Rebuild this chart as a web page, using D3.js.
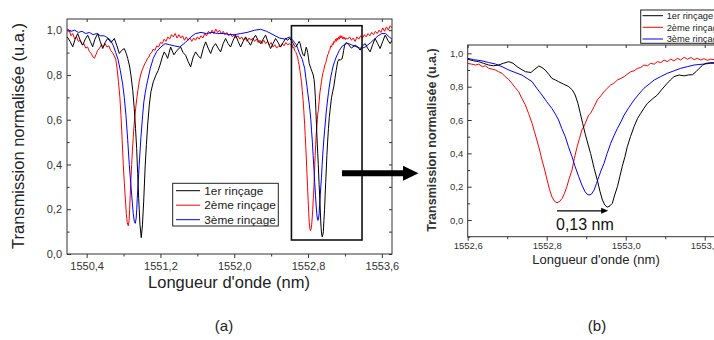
<!DOCTYPE html>
<html lang="fr">
<head>
<meta charset="utf-8">
<style>
  body { margin: 0; background: #fff; }
  svg { font-family: "Liberation Sans", Arial, sans-serif; }
  .frame { fill: none; stroke: #333; stroke-width: 1; }
  .tick line { stroke: #333; }
  .tick text { fill: #333; }
  .curve { fill: none; stroke-width: 1; stroke-linejoin: round; }
</style>
</head>
<body>
<svg width="714" height="340"></svg>
<script src="https://cdn.jsdelivr.net/npm/d3@7"></script>
<script>
// ---- data: [wavelength nm, normalised transmission] ----
var rinse1 = [
  [1550.19,0.970],[1550.22,0.95],[1550.249,0.926],[1550.275,0.96],[1550.303,0.985],[1550.33,0.955],
  [1550.357,0.933],[1550.385,0.96],[1550.411,0.978],[1550.44,0.95],[1550.465,0.926],[1550.49,0.96],
  [1550.52,0.985],[1550.547,0.95],[1550.574,0.918],[1550.60,0.945],[1550.628,0.963],[1550.665,0.945],
  [1550.70,0.963],[1550.728,0.93],[1550.754,0.896],[1550.78,0.91],[1550.808,0.918],[1550.83,0.895],
  [1550.845,0.874],[1550.865,0.84],[1550.88,0.799],[1550.90,0.73],[1550.916,0.650],[1550.93,0.56],
  [1550.942,0.472],[1550.953,0.36],[1550.964,0.249],[1550.978,0.13],[1550.992,0.073],[1551.005,0.13],
  [1551.018,0.233],[1551.035,0.397],[1551.048,0.49],[1551.061,0.576],[1551.08,0.67],[1551.097,0.725],
  [1551.122,0.769],[1551.151,0.799],[1551.175,0.82],[1551.195,0.844],[1551.22,0.88],[1551.241,0.903],
  [1551.26,0.89],[1551.278,0.874],[1551.31,0.925],[1551.346,0.89],[1551.38,0.91],[1551.419,0.925],
  [1551.445,0.90],[1551.473,0.888],[1551.50,0.86],[1551.527,0.836],[1551.555,0.88],[1551.581,0.903],
  [1551.61,0.885],[1551.636,0.874],[1551.665,0.92],[1551.69,0.948],[1551.717,0.92],[1551.744,0.896],
  [1551.77,0.925],[1551.798,0.94],[1551.825,0.92],[1551.852,0.903],[1551.88,0.94],[1551.906,0.963],
  [1551.933,0.94],[1551.96,0.925],[1551.988,0.955],[1552.015,0.978],[1552.042,0.95],[1552.069,0.925],
  [1552.096,0.95],[1552.123,0.97],[1552.15,0.95],[1552.177,0.933],[1552.204,0.96],[1552.231,0.978],
  [1552.258,0.955],[1552.286,0.94],[1552.313,0.96],[1552.34,0.978],[1552.367,0.945],[1552.394,0.918],
  [1552.42,0.94],[1552.448,0.963],[1552.475,0.945],[1552.502,0.925],[1552.53,0.945],[1552.556,0.963],
  [1552.58,0.955],[1552.60,0.965],[1552.615,0.955],[1552.628,0.95],[1552.64,0.94],[1552.653,0.93],
  [1552.665,0.925],[1552.678,0.93],[1552.69,0.94],[1552.704,0.95],[1552.715,0.94],[1552.725,0.92],
  [1552.735,0.905],[1552.746,0.89],[1552.76,0.885],[1552.77,0.905],[1552.78,0.924],[1552.788,0.915],
  [1552.796,0.90],[1552.805,0.875],[1552.813,0.85],[1552.822,0.84],[1552.83,0.83],[1552.843,0.815],
  [1552.856,0.80],[1552.865,0.78],[1552.872,0.75],[1552.879,0.70],[1552.885,0.64],[1552.891,0.58],
  [1552.897,0.52],[1552.905,0.45],[1552.911,0.40],[1552.92,0.31],[1552.928,0.24],[1552.935,0.17],
  [1552.941,0.12],[1552.947,0.09],[1552.953,0.077],[1552.96,0.085],[1552.966,0.10],[1552.972,0.15],
  [1552.979,0.20],[1552.985,0.26],[1552.991,0.32],[1552.998,0.38],[1553.004,0.44],[1553.012,0.50],
  [1553.021,0.56],[1553.03,0.61],[1553.038,0.64],[1553.046,0.67],[1553.055,0.70],[1553.067,0.725],
  [1553.08,0.75],[1553.092,0.785],[1553.105,0.82],[1553.113,0.84],[1553.122,0.86],[1553.135,0.87],
  [1553.148,0.865],[1553.158,0.87],[1553.169,0.872],[1553.178,0.89],[1553.186,0.91],[1553.195,0.93],
  [1553.203,0.94],[1553.22,0.945],[1553.24,0.935],[1553.27,0.92],[1553.311,0.933],[1553.34,0.925],
  [1553.365,0.911],[1553.39,0.93],[1553.419,0.94],[1553.445,0.92],[1553.473,0.903],[1553.50,0.935],
  [1553.527,0.963],[1553.555,0.94],[1553.581,0.918],[1553.61,0.95],[1553.636,0.978],[1553.665,0.955],
  [1553.69,0.94],[1553.71,0.955]
];

var rinse2 = [
  [1550.19,0.99],[1550.21,1.0],[1550.23,0.975],[1550.25,0.985],[1550.27,0.96],[1550.29,0.97],
  [1550.31,0.95],[1550.33,0.955],[1550.35,0.935],[1550.37,0.94],[1550.39,0.92],[1550.41,0.925],
  [1550.43,0.905],[1550.45,0.895],[1550.47,0.88],[1550.485,0.875],[1550.50,0.89],[1550.52,0.91],
  [1550.54,0.92],[1550.56,0.935],[1550.58,0.925],[1550.60,0.94],[1550.62,0.925],[1550.64,0.93],
  [1550.66,0.91],[1550.68,0.9],[1550.70,0.885],[1550.715,0.87],[1550.73,0.83],[1550.745,0.77],
  [1550.76,0.70],[1550.772,0.62],[1550.785,0.51],[1550.797,0.40],[1550.808,0.32],[1550.819,0.25],
  [1550.83,0.18],[1550.84,0.14],[1550.851,0.126],[1550.86,0.15],[1550.866,0.20],[1550.872,0.26],
  [1550.88,0.33],[1550.888,0.40],[1550.896,0.46],[1550.905,0.52],[1550.915,0.58],[1550.924,0.62],
  [1550.935,0.665],[1550.945,0.70],[1550.957,0.735],[1550.97,0.77],[1550.985,0.80],[1551.0,0.82],
  [1551.015,0.835],[1551.03,0.85],[1551.045,0.86],[1551.06,0.875],[1551.075,0.88],[1551.09,0.895],
  [1551.105,0.90],[1551.12,0.915],[1551.14,0.91],[1551.16,0.93],[1551.18,0.925],[1551.20,0.945],
  [1551.22,0.94],[1551.24,0.96],[1551.26,0.95],[1551.28,0.97],[1551.30,0.96],[1551.32,0.98],
  [1551.34,0.97],[1551.36,0.985],[1551.38,0.965],[1551.40,0.98],[1551.42,0.965],[1551.44,0.975],
  [1551.46,0.955],[1551.48,0.97],[1551.50,0.955],[1551.52,0.965],[1551.54,0.95],[1551.56,0.965],
  [1551.58,0.955],[1551.60,0.97],[1551.62,0.96],[1551.64,0.975],[1551.66,0.965],[1551.68,0.985],
  [1551.70,0.975],[1551.72,0.995],[1551.74,0.985],[1551.76,1.0],[1551.78,0.985],[1551.80,1.005],
  [1551.82,0.99],[1551.84,1.0],[1551.86,0.985],[1551.88,0.995],[1551.90,0.98],[1551.92,0.99],
  [1551.94,0.975],[1551.96,0.985],[1551.98,0.97],[1552.00,0.98],[1552.02,0.965],[1552.04,0.975],
  [1552.06,0.96],[1552.08,0.97],[1552.10,0.955],[1552.12,0.965],[1552.14,0.95],[1552.16,0.965],
  [1552.18,0.955],[1552.20,0.965],[1552.22,0.95],[1552.24,0.96],[1552.26,0.945],[1552.28,0.955],
  [1552.30,0.94],[1552.32,0.955],[1552.34,0.94],[1552.36,0.95],[1552.38,0.935],[1552.40,0.945],
  [1552.42,0.925],[1552.44,0.935],[1552.46,0.92],[1552.48,0.93],[1552.50,0.925],[1552.52,0.94],
  [1552.54,0.93],[1552.56,0.945],[1552.58,0.935],[1552.60,0.94],[1552.61,0.935],[1552.62,0.93],
  [1552.628,0.935],[1552.637,0.92],[1552.645,0.925],[1552.653,0.91],[1552.662,0.905],[1552.67,0.9],
  [1552.678,0.89],[1552.687,0.88],[1552.695,0.86],[1552.703,0.845],[1552.712,0.82],[1552.72,0.795],
  [1552.729,0.77],[1552.737,0.73],[1552.746,0.69],[1552.754,0.64],[1552.763,0.58],[1552.769,0.53],
  [1552.775,0.48],[1552.782,0.42],[1552.788,0.36],[1552.795,0.30],[1552.801,0.24],[1552.807,0.185],
  [1552.813,0.14],[1552.82,0.112],[1552.826,0.104],[1552.833,0.112],[1552.839,0.13],[1552.845,0.16],
  [1552.851,0.20],[1552.857,0.25],[1552.864,0.30],[1552.87,0.37],[1552.877,0.44],[1552.883,0.49],
  [1552.889,0.54],[1552.895,0.565],[1552.901,0.60],[1552.906,0.63],[1552.911,0.64],[1552.92,0.68],
  [1552.928,0.72],[1552.937,0.745],[1552.945,0.77],[1552.953,0.79],[1552.962,0.81],[1552.97,0.82],
  [1552.979,0.84],[1552.988,0.85],[1552.996,0.86],[1553.004,0.875],[1553.013,0.89],[1553.021,0.895],
  [1553.03,0.91],[1553.038,0.915],[1553.046,0.93],[1553.055,0.925],[1553.063,0.94],[1553.072,0.935],
  [1553.08,0.95],[1553.089,0.945],[1553.097,0.96],[1553.105,0.95],[1553.114,0.965],[1553.122,0.955],
  [1553.131,0.97],[1553.139,0.96],[1553.148,0.976],[1553.156,0.965],[1553.165,0.975],[1553.173,0.962],
  [1553.181,0.97],[1553.19,0.96],[1553.198,0.968],[1553.207,0.958],[1553.215,0.965],[1553.23,0.96],
  [1553.25,0.97],[1553.27,0.955],[1553.29,0.965],[1553.31,0.95],[1553.33,0.97],[1553.35,0.96],
  [1553.37,0.975],[1553.39,0.965],[1553.41,0.98],[1553.43,0.97],[1553.45,0.985],[1553.47,0.975],
  [1553.49,0.99],[1553.51,0.98],[1553.53,0.995],[1553.55,0.985],[1553.57,1.0],[1553.59,0.99],
  [1553.61,1.01],[1553.63,0.995],[1553.65,1.015],[1553.67,1.0],[1553.69,1.02],[1553.71,1.01]
];

var rinse3 = [
  [1550.19,1.005],[1550.23,0.995],[1550.27,1.0],[1550.31,0.99],[1550.35,0.995],[1550.39,0.985],
  [1550.43,0.99],[1550.47,0.98],[1550.51,0.985],[1550.55,0.975],[1550.59,0.975],[1550.63,0.965],
  [1550.66,0.955],[1550.69,0.93],[1550.715,0.90],[1550.74,0.87],[1550.765,0.82],[1550.79,0.76],
  [1550.808,0.70],[1550.826,0.62],[1550.845,0.51],[1550.862,0.40],[1550.877,0.32],[1550.891,0.25],
  [1550.905,0.18],[1550.917,0.145],[1550.927,0.137],[1550.937,0.16],[1550.943,0.20],[1550.949,0.25],
  [1550.96,0.33],[1550.97,0.40],[1550.988,0.52],[1551.007,0.62],[1551.02,0.68],[1551.035,0.72],
  [1551.048,0.75],[1551.061,0.775],[1551.09,0.83],[1551.122,0.874],[1551.16,0.905],[1551.205,0.925],
  [1551.25,0.94],[1551.30,0.935],[1551.35,0.93],[1551.41,0.925],[1551.47,0.945],[1551.53,0.97],
  [1551.58,0.985],[1551.64,0.99],[1551.70,0.985],[1551.76,0.99],[1551.82,0.985],[1551.89,0.985],
  [1551.95,0.98],[1552.0,0.98],[1552.07,0.985],[1552.14,0.99],[1552.22,1.0],[1552.285,1.004],
  [1552.35,0.995],[1552.43,0.978],[1552.49,0.965],[1552.55,0.96],[1552.6,0.97],[1552.615,0.962],
  [1552.636,0.955],[1552.653,0.945],[1552.67,0.936],[1552.687,0.92],[1552.704,0.90],[1552.72,0.885],
  [1552.737,0.87],[1552.75,0.85],[1552.763,0.83],[1552.775,0.79],[1552.788,0.75],[1552.8,0.71],
  [1552.813,0.67],[1552.822,0.635],[1552.83,0.60],[1552.838,0.55],[1552.847,0.50],[1552.855,0.44],
  [1552.864,0.38],[1552.872,0.32],[1552.881,0.26],[1552.889,0.21],[1552.897,0.17],[1552.902,0.155],
  [1552.907,0.15],[1552.913,0.155],[1552.92,0.18],[1552.926,0.22],[1552.932,0.26],[1552.938,0.30],
  [1552.945,0.34],[1552.953,0.40],[1552.962,0.46],[1552.97,0.505],[1552.979,0.55],[1552.988,0.59],
  [1552.996,0.63],[1553.008,0.675],[1553.021,0.72],[1553.033,0.755],[1553.046,0.79],[1553.059,0.815],
  [1553.072,0.84],[1553.088,0.86],[1553.105,0.88],[1553.122,0.895],[1553.139,0.91],[1553.156,0.92],
  [1553.173,0.93],[1553.195,0.935],[1553.215,0.94],[1553.24,0.94],[1553.27,0.935],[1553.30,0.93],
  [1553.33,0.925],[1553.36,0.92],[1553.39,0.92],[1553.42,0.925],[1553.45,0.935],[1553.48,0.945],
  [1553.52,0.96],[1553.56,0.975],[1553.60,0.985],[1553.64,0.985],[1553.68,0.97],[1553.71,0.96]
];

var seriesNames = ["1er rinçage", "2ème rinçage", "3ème rinçage"];
var seriesColors = ["#000000", "#ff0000", "#0000ff"];
var seriesData = [rinse1, rinse2, rinse3];

var xTicksA = [1550.4, 1551.2, 1552.0, 1552.8, 1553.6];
var xMinorA = [1550.8, 1551.6, 1552.4, 1553.2];
var yTicksA = [0, 0.2, 0.4, 0.6, 0.8, 1.0];
var yMinorA = [0.1, 0.3, 0.5, 0.7, 0.9];

var xTicksB = [1552.6, 1552.8, 1553.0, 1553.2];
var xMinorB = [1552.7, 1552.9, 1553.1];
var yTicksB = [0, 0.2, 0.4, 0.6, 0.8, 1.0];
var yMinorB = [-0.1, 0.1, 0.3, 0.5, 0.7, 0.9];

var zoomBox = [1552.62, 1553.385];   // rectangle drawn around the 2nd resonance
var shiftLabel = "0,13 nm";

var fr = d3.formatLocale({decimal: ",", thousands: "", grouping: [3], currency: ["", ""]});
var f1 = fr.format(".1f");

var svg = d3.select("svg");

function panel(o) {
    var g = svg.append("g");
    var x = d3.scaleLinear().domain(o.xd).range([o.l, o.r]);
    var y = d3.scaleLinear().domain(o.yd).range([o.b, o.t]);

    // bottom ticks, outward
    g.append("g").attr("transform", "translate(0," + o.b + ")")
        .call(d3.axisBottom(x).tickValues(o.xt).tickFormat(f1).tickSize(4).tickPadding(o.xpad))
        .call(function (a) { a.select(".domain").remove(); a.selectAll("text").style("font-size", o.fs + "px"); });
    g.append("g").attr("transform", "translate(0," + o.b + ")")
        .call(d3.axisBottom(x).tickValues(o.xm).tickFormat("").tickSize(2.5))
        .select(".domain").remove();
    // top ticks, inward
    g.append("g").attr("transform", "translate(0," + o.t + ")")
        .call(d3.axisTop(x).tickValues(o.xt.concat(o.xm)).tickFormat("").tickSize(-3))
        .select(".domain").remove();
    // left ticks, inward
    g.append("g").attr("transform", "translate(" + o.l + ",0)")
        .call(d3.axisLeft(y).tickValues(o.yt).tickFormat(f1).tickSize(-4).tickPadding(o.ypad))
        .call(function (a) { a.select(".domain").remove(); a.selectAll("text").style("font-size", o.fs + "px"); });
    g.append("g").attr("transform", "translate(" + o.l + ",0)")
        .call(d3.axisLeft(y).tickValues(o.ym).tickFormat("").tickSize(-2.5))
        .select(".domain").remove();
    if (o.rightTicks) {
        g.append("g").attr("transform", "translate(" + o.r + ",0)")
            .call(d3.axisRight(y).tickValues(o.yt.concat(o.ym)).tickFormat("").tickSize(-3))
            .select(".domain").remove();
    }

    g.append("rect").attr("class", "frame")
        .attr("x", o.l).attr("y", o.t).attr("width", o.r - o.l).attr("height", o.b - o.t);

    g.append("clipPath").attr("id", o.id)
        .append("rect").attr("x", o.l).attr("y", o.t).attr("width", o.r - o.l).attr("height", o.b - o.t);

    var line = d3.line().x(function (d) { return x(d[0]); }).y(function (d) { return y(d[1]); });
    var order = [1, 2, 0];
    order.forEach(function (i) {
        g.append("path").attr("class", "curve")
            .attr("clip-path", "url(#" + o.id + ")")
            .attr("stroke", seriesColors[i])
            .attr("stroke-width", i == 1 ? o.redW : 1)
            .attr("d", line(seriesData[i]));
    });
    return {x: x, y: y, g: g};
}

function legend(g, lx, ly, w, h, rows, x0, x1, tx, fs) {
    g.append("rect").attr("x", lx).attr("y", ly).attr("width", w).attr("height", h)
        .attr("fill", "#fff").attr("stroke", "#222").attr("stroke-width", 1);
    seriesNames.forEach(function (n, i) {
        g.append("line").attr("x1", x0).attr("x2", x1).attr("y1", rows[i]).attr("y2", rows[i])
            .attr("stroke", seriesColors[i]).attr("stroke-width", 1);
        g.append("text").attr("x", tx).attr("y", rows[i]).attr("dy", "0.35em")
            .style("font-size", fs + "px").attr("fill", "#222").text(n);
    });
}

// ---- panel (a) ----
var A = panel({id: "clipA", xd: [1550.187, 1553.71], yd: [0, 1.05], l: 67, r: 392, t: 19, b: 254,
    xt: xTicksA, xm: xMinorA, yt: yTicksA, ym: yMinorA, fs: 11, xpad: 4, ypad: 5, rightTicks: true, redW: 1.3});

A.g.append("rect").attr("x", A.x(zoomBox[0])).attr("y", 25.7)
    .attr("width", A.x(zoomBox[1]) - A.x(zoomBox[0])).attr("height", 214.3)
    .attr("fill", "none").attr("stroke", "#111").attr("stroke-width", 1.6);

legend(A.g, 172.7, 183.3, 105.6, 42.7, [190.7, 205.2, 219.7], 176, 200, 204.3, 11.8);

svg.append("text").attr("x", 229).attr("y", 288).attr("text-anchor", "middle")
    .style("font-size", "16.5px").attr("fill", "#222").text("Longueur d'onde (nm)");
svg.append("text").attr("transform", "translate(24,136) rotate(-90)").attr("text-anchor", "middle")
    .style("font-size", "16.5px").attr("fill", "#222").text("Transmission normalisée (u.a.)");

// ---- big arrow from (a) to (b) ----
svg.append("path")
    .attr("d", "M342,170.3H403V165.8L418.5,173.3L403,180.8V176.3H342Z")
    .attr("fill", "#000");

// ---- panel (b) ----
var B = panel({id: "clipB", xd: [1552.6, 1553.25], yd: [-0.1, 1.05], l: 467.7, r: 724.5, t: 45, b: 236.7,
    xt: xTicksB, xm: xMinorB, yt: yTicksB, ym: yMinorB, fs: 9.5, xpad: 2, ypad: 4.5, rightTicks: false, redW: 1});

legend(B.g, 640.7, 10, 90, 33.3, [15.7, 27.3, 39], 642.5, 663, 666.7, 9.3);

// shift arrow between red and black minima of the 2nd resonance
function inB(d) { return d[0] >= 1552.6 && d[0] <= 1553.25; }
var redMin = d3.least(rinse2.filter(inB), function (d) { return d[1]; });
var blackMin = d3.least(rinse1.filter(inB), function (d) { return d[1]; });
var ay = B.y(0.055);
var ax0 = B.x(redMin[0]), ax1 = B.x(blackMin[0]);
svg.append("line").attr("x1", ax0).attr("x2", ax1 - 5).attr("y1", ay).attr("y2", ay)
    .attr("stroke", "#000").attr("stroke-width", 1.3);
svg.append("path")
    .attr("d", "M" + (ax1 - 6) + "," + (ay - 3) + "L" + (ax1 + 1) + "," + ay + "L" + (ax1 - 6) + "," + (ay + 3) + "Z")
    .attr("fill", "#000");
svg.append("text").attr("x", 556).attr("y", 230).style("font-size", "16px").attr("fill", "#111").text(shiftLabel);

svg.append("text").attr("x", 596).attr("y", 264).attr("text-anchor", "middle")
    .style("font-size", "13px").attr("fill", "#222").text("Longueur d'onde (nm)");
svg.append("text").attr("transform", "translate(436,140) rotate(-90)").attr("text-anchor", "middle")
    .style("font-size", "12.5px").style("font-weight", "bold").attr("fill", "#333")
    .text("Transmission normalisée (u.a.)");

// ---- captions ----
svg.append("text").attr("x", 224).attr("y", 331).attr("text-anchor", "middle")
    .style("font-size", "15px").attr("fill", "#222").text("(a)");
svg.append("text").attr("x", 597).attr("y", 331).attr("text-anchor", "middle")
    .style("font-size", "15px").attr("fill", "#222").text("(b)");
</script>
</body>
</html>
